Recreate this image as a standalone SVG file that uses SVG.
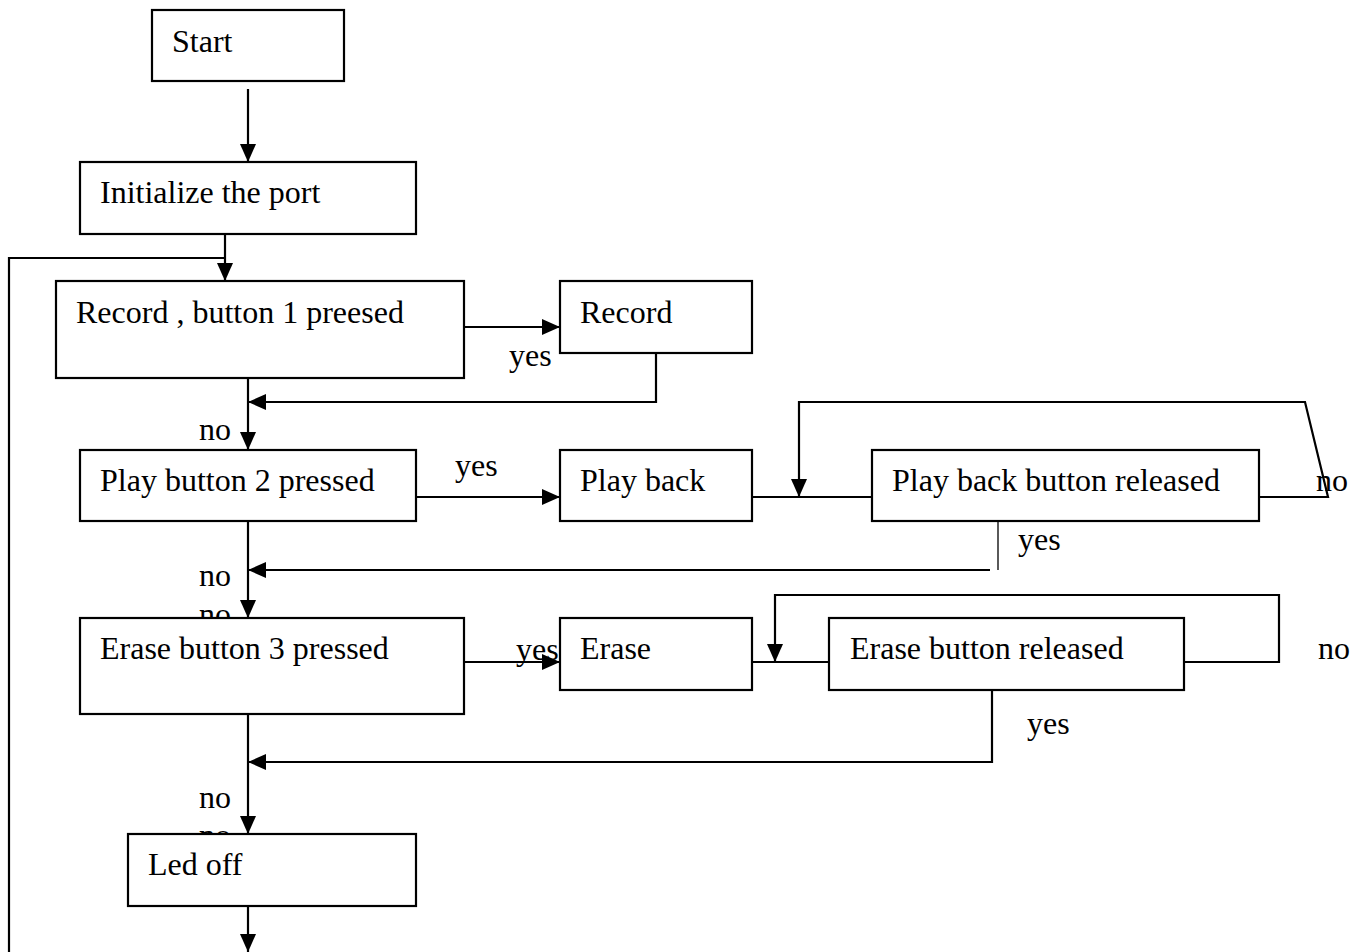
<svg xmlns="http://www.w3.org/2000/svg" width="1358" height="952" viewBox="0 0 1358 952">
<style>
text{font-family:"Liberation Serif","Times New Roman",serif;font-size:32px;fill:#000}
.box{fill:#fff;stroke:#000;stroke-width:2.2}
.ln{fill:none;stroke:#000;stroke-width:2.2}
.thin{fill:none;stroke:#000;stroke-width:1.3}
</style>
<defs>
<marker id="ah" viewBox="0 0 18 16" refX="18" refY="8" markerWidth="18" markerHeight="16" markerUnits="userSpaceOnUse" orient="auto">
<path d="M0,0 L18,8 L0,16 Z" fill="#000"/>
</marker>
</defs>
<rect width="1358" height="952" fill="#fff"/>
<g id="labels">
<text x="509" y="366">yes</text>
<text x="199" y="440">no</text>
<text x="455" y="476">yes</text>
<text x="1316" y="491">no</text>
<text x="1018" y="550">yes</text>
<text x="199" y="586">no</text>
<text x="199" y="625">no</text>
<text x="1318" y="659">no</text>
<text x="1027" y="734">yes</text>
<text x="199" y="808">no</text>
<text x="199" y="846">no</text>
</g>
<g id="connectors">
<line class="ln" x1="248" y1="89" x2="248" y2="162" marker-end="url(#ah)"/>
<line class="ln" x1="225" y1="234" x2="225" y2="281" marker-end="url(#ah)"/>
<polyline class="ln" points="225,258 9,258 9,952"/>
<line class="ln" x1="464" y1="327" x2="560" y2="327" marker-end="url(#ah)"/>
<polyline class="ln" points="656,353 656,402 248,402" marker-end="url(#ah)"/>
<line class="ln" x1="248" y1="378" x2="248" y2="450" marker-end="url(#ah)"/>
<line class="ln" x1="416" y1="497" x2="560" y2="497" marker-end="url(#ah)"/>
<line class="ln" x1="752" y1="497" x2="872" y2="497"/>
<polyline class="ln" points="1256,497 1328,497 1305,402 799,402 799,497" marker-end="url(#ah)"/>
<line class="thin" x1="998" y1="521" x2="998" y2="570"/>
<line class="ln" x1="990" y1="570" x2="248" y2="570" marker-end="url(#ah)"/>
<line class="ln" x1="248" y1="521" x2="248" y2="618" marker-end="url(#ah)"/>
<line class="ln" x1="464" y1="662" x2="560" y2="662" marker-end="url(#ah)"/>
<line class="ln" x1="752" y1="662" x2="829" y2="662"/>
<polyline class="ln" points="1184,662 1279,662 1279,595 775,595 775,662" marker-end="url(#ah)"/>
<polyline class="ln" points="992,690 992,762 248,762" marker-end="url(#ah)"/>
<line class="ln" x1="248" y1="714" x2="248" y2="834" marker-end="url(#ah)"/>
<line class="ln" x1="248" y1="906" x2="248" y2="952" marker-end="url(#ah)"/>
</g>
<g id="label-yes-erase"><text x="516" y="660">yes</text></g>
<g id="n-start"><rect class="box" x="152" y="10" width="192" height="71"/><text x="172" y="52">Start</text></g>
<g id="n-init"><rect class="box" x="80" y="162" width="336" height="72"/><text x="100" y="203">Initialize the port</text></g>
<g id="n-rec1"><rect class="box" x="56" y="281" width="408" height="97"/><text x="76" y="323">Record , button 1 preesed</text></g>
<g id="n-record"><rect class="box" x="560" y="281" width="192" height="72"/><text x="580" y="323">Record</text></g>
<g id="n-play2"><rect class="box" x="80" y="450" width="336" height="71"/><text x="100" y="491">Play button 2 pressed</text></g>
<g id="n-playback"><rect class="box" x="560" y="450" width="192" height="71"/><text x="580" y="491">Play back</text></g>
<g id="n-pbrel"><rect class="box" x="872" y="450" width="387" height="71"/><text x="892" y="491">Play back button released</text></g>
<g id="n-erase3"><rect class="box" x="80" y="618" width="384" height="96"/><text x="100" y="659">Erase button 3 pressed</text></g>
<g id="n-erase"><rect class="box" x="560" y="618" width="192" height="72"/><text x="580" y="659">Erase</text></g>
<g id="n-erel"><rect class="box" x="829" y="618" width="355" height="72"/><text x="850" y="659">Erase button released</text></g>
<g id="n-led"><rect class="box" x="128" y="834" width="288" height="72"/><text x="148" y="875">Led off</text></g>
</svg>
